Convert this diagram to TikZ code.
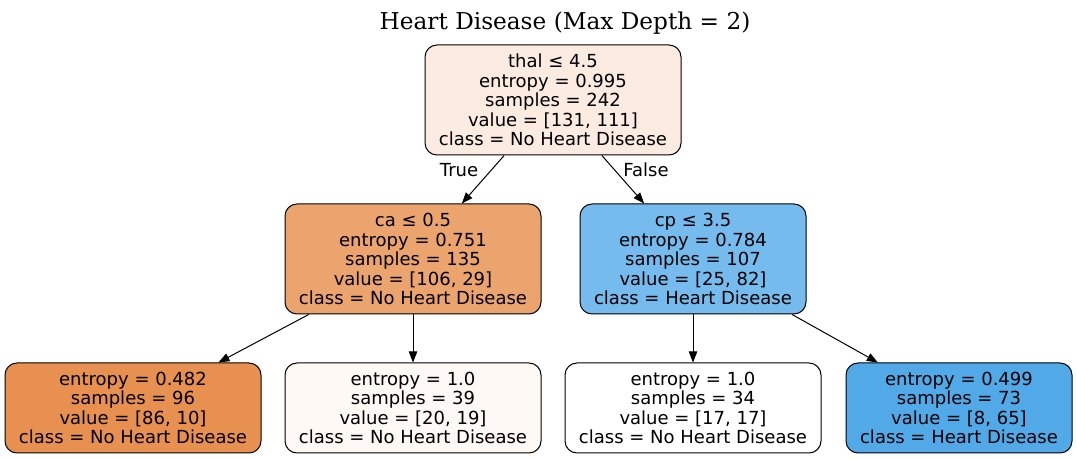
\documentclass[tikz,border=0pt]{standalone}
\usepackage{fontspec}
\setmainfont{DejaVu Sans}
\newfontfamily\titlefont{DejaVu Serif}
\usetikzlibrary{arrows.meta}

\definecolor{rootfill}{HTML}{FBEBE0}
\definecolor{leftfill}{HTML}{ECA46F}
\definecolor{rightfill}{HTML}{75BBED}
\definecolor{llfill}{HTML}{E89050}
\definecolor{lrfill}{HTML}{FEF9F5}
\definecolor{rrfill}{HTML}{51A9E8}

\begin{document}
\begin{tikzpicture}[
  x=0.5pt, y=-0.5pt,
  split/.style={draw, rounded corners=6pt, line width=0.5pt, align=center,
    font=\fontsize{9}{9.75}\selectfont, inner sep=0pt,
    minimum width=128pt, minimum height=55pt},
  leaf/.style={split, minimum height=45pt},
  arrow/.style={-{Triangle[length=5.5pt, width=4.2pt]}, line width=0.5pt},
  label/.style={font=\fontsize{9}{9.75}\selectfont},
]
\useasboundingbox (0,0) rectangle (1077,459);

% === TITLE ===
\node[font=\titlefont\fontsize{11.6}{13}\selectfont] (title) at (565,23) {Heart Disease (Max Depth = 2)};

% === SPLIT NODES ===
\node[split, fill=rootfill] (root) at (553,100)
  {thal ≤ 4.5\\entropy = 0.995\\samples = 242\\value = [131, 111]\\class = No Heart Disease};
\node[split, fill=leftfill] (ca) at (413,259)
  {ca ≤ 0.5\\entropy = 0.751\\samples = 135\\value = [106, 29]\\class = No Heart Disease};
\node[split, fill=rightfill, minimum width=113pt] (cp) at (693,259)
  {cp ≤ 3.5\\entropy = 0.784\\samples = 107\\value = [25, 82]\\class = Heart Disease};

% === LEAVES ===
\node[leaf, fill=llfill] (leafA) at (133,408)
  {entropy = 0.482\\samples = 96\\value = [86, 10]\\class = No Heart Disease};
\node[leaf, fill=lrfill] (leafB) at (413,408)
  {entropy = 1.0\\samples = 39\\value = [20, 19]\\class = No Heart Disease};
\node[leaf, fill=white] (leafC) at (693,408)
  {entropy = 1.0\\samples = 34\\value = [17, 17]\\class = No Heart Disease};
\node[leaf, fill=rrfill, minimum width=113pt] (leafD) at (959,408)
  {entropy = 0.499\\samples = 73\\value = [8, 65]\\class = Heart Disease};

% === EDGES ===
\draw[arrow] (root) -- (ca);
\draw[arrow] (root) -- (cp);
\draw[arrow] (ca) -- (leafA);
\draw[arrow] (ca) -- (leafB);
\draw[arrow] (cp) -- (leafC);
\draw[arrow] (cp) -- (leafD);

\node[label] (true) at (459,170) {True};
\node[label] (false) at (646,170) {False};
\end{tikzpicture}
\end{document}
